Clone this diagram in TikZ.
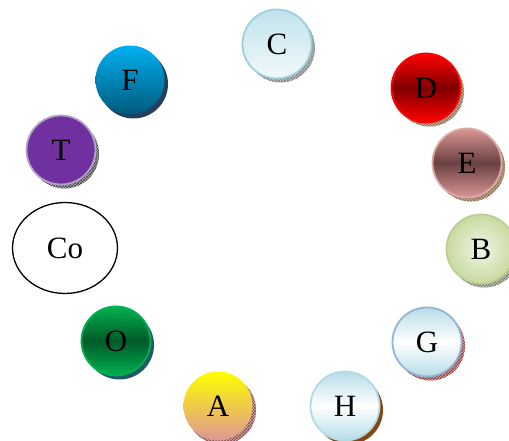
\documentclass[tikz,border=0pt]{standalone}
\usepackage{fontspec}
\setmainfont{Liberation Serif}
\usetikzlibrary{shadings,shadows,patterns,shapes.geometric}
\definecolor{cBd}{RGB}{157,207,221}
\definecolor{cTop}{RGB}{192,226,236}
\definecolor{cBot}{RGB}{242,249,251}
\definecolor{dRed}{RGB}{255,0,0}
\definecolor{dMid}{RGB}{128,0,0}
\definecolor{dSh}{RGB}{139,107,75}
\definecolor{eBd}{RGB}{222,168,166}
\definecolor{eOut}{RGB}{217,150,148}
\definecolor{eMid}{RGB}{105,65,65}
\definecolor{eSh}{RGB}{139,100,70}
\definecolor{bBd}{RGB}{187,207,147}
\definecolor{bIn}{RGB}{240,245,228}
\definecolor{bOut}{RGB}{200,218,160}
\definecolor{bSh}{RGB}{120,130,110}
\definecolor{gBd}{RGB}{149,179,215}
\definecolor{lBlue}{RGB}{183,221,232}
\definecolor{gSh}{RGB}{150,60,60}
\definecolor{hBd}{RGB}{178,218,228}
\definecolor{hSh}{RGB}{132,70,20}
\definecolor{aTop}{RGB}{255,255,0}
\definecolor{aBot}{RGB}{222,150,150}
\definecolor{aSh}{RGB}{140,75,75}
\definecolor{oOut}{RGB}{0,176,80}
\definecolor{oMid}{RGB}{0,90,40}
\definecolor{oSh}{RGB}{33,89,103}
\definecolor{tBd}{RGB}{179,162,199}
\definecolor{tFill}{RGB}{112,48,160}
\definecolor{tSh}{RGB}{70,70,70}
\definecolor{fTop}{RGB}{0,176,240}
\definecolor{fBot}{RGB}{0,90,125}
\definecolor{fSh}{RGB}{36,63,96}
\begin{document}
\begin{tikzpicture}[x=1pt,y=1pt,
  ball/.style={circle,minimum size=69pt,inner sep=0pt,line width=1.8pt,font=\fontsize{31}{36}\selectfont},
  hatchsh/.style={general shadow={shadow xshift=3.5pt,shadow yshift=-4pt,fill=#1!45},
                  general shadow={shadow xshift=3.5pt,shadow yshift=-4pt,pattern=crosshatch,pattern color=#1}},
  solidsh/.style={general shadow={shadow xshift=3.5pt,shadow yshift=-4pt,fill=#1}}]
\useasboundingbox (0,0) rectangle (509,441);
\node[ball,draw=cBd,top color=cTop,bottom color=cBot,hatchsh=gray] (C) at (277,397) {C};
\node[ball,draw=dRed,top color=dRed,bottom color=dRed,middle color=dMid,hatchsh=dSh] (D) at (426,353) {D};
\node[ball,draw=eBd,top color=eOut,bottom color=eOut,middle color=eMid,hatchsh=eSh] (E) at (467,278) {E};
\node[ball,draw=bBd,inner color=bIn,outer color=bOut,hatchsh=bSh] (B) at (481,192) {B};
\node[ball,draw=gBd,top color=lBlue,bottom color=lBlue,middle color=white,hatchsh=gSh] (G) at (427,99) {G};
\node[ball,draw=hBd,top color=lBlue,bottom color=lBlue,middle color=white,solidsh=hSh] (H) at (345,35) {H};
\node[ball,top color=aTop,bottom color=aBot,hatchsh=aSh] (A) at (218,35) {A};
\node[ball,draw=oOut,top color=oOut,bottom color=oOut,middle color=oMid,solidsh=oSh] (O) at (116,100) {O};
\node[draw,ellipse,line width=1.3pt,minimum width=105pt,minimum height=91pt,inner sep=0pt,font=\fontsize{31}{36}\selectfont] (Co) at (65,193) {Co};
\node[ball,draw=tBd,fill=tFill,hatchsh=tSh] (T) at (61,291) {T};
\node[ball,top color=fTop,bottom color=fBot,solidsh=fSh] (F) at (130,361) {F};
\end{tikzpicture}
\end{document}
